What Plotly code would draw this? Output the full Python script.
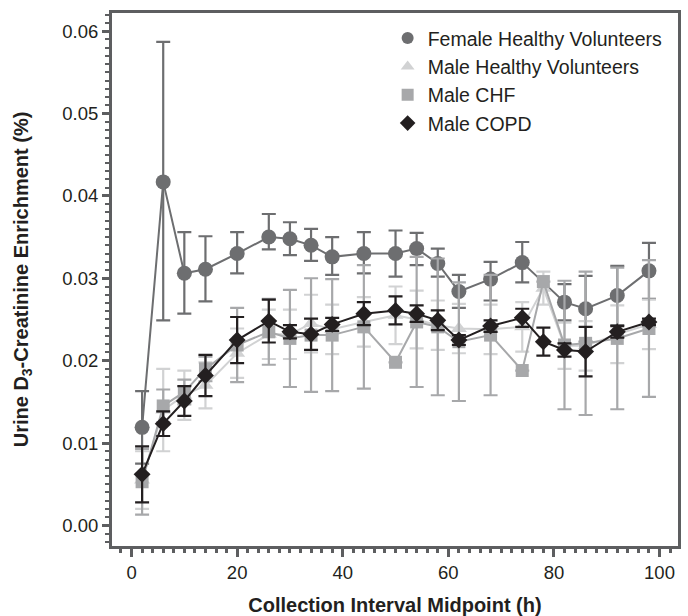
import plotly.graph_objects as go

# ---- data ----
x_female = [2, 6, 10, 14, 20, 26, 30, 34, 38, 44, 50, 54, 58, 62, 68, 74, 82, 86, 92, 98]
female = [0.0119, 0.0417, 0.0306, 0.0311, 0.0330, 0.0350, 0.0348, 0.0340, 0.0326, 0.0330,
          0.0330, 0.0336, 0.0318, 0.0284, 0.0299, 0.0319, 0.0271, 0.0263, 0.0279, 0.0309]
female_err_up = [0.0044, 0.0170, 0.0050, 0.0040, 0.0026, 0.0028, 0.0020, 0.0020, 0.0024, 0.0026,
                 0.0028, 0.0019, 0.0018, 0.0020, 0.0021, 0.0025, 0.0022, 0.0040, 0.0036, 0.0034]
female_err_dn = [0.0044, 0.0168, 0.0049, 0.0039, 0.0024, 0.0015, 0.0020, 0.0019, 0.0022, 0.0024,
                 0.0028, 0.0020, 0.0016, 0.0020, 0.0026, 0.0024, 0.0022, 0.0040, 0.0036, 0.0034]

x_male = [2, 6, 10, 14, 20, 26, 30, 34, 38, 44, 50, 54, 58, 62, 68, 74, 78, 82, 86, 92, 98]
male_hv = [0.0055, 0.0140, 0.0158, 0.0170, 0.0209, 0.0232, 0.0232, 0.0245, 0.0238, 0.0247, 0.0255,
           0.0250, 0.0243, 0.0239, 0.0238, 0.0241, 0.0288, 0.0218, 0.0218, 0.0232, 0.0244]
male_hv_err = [0.0035, 0.0050, 0.0030, 0.0028, 0.0030, 0.0030, 0.0030, 0.0035, 0.0030, 0.0030, 0.0035,
               0.0035, 0.0030, 0.0030, 0.0030, 0.0030, 0.0020, 0.0028, 0.0030, 0.0035, 0.0030]

male_chf = [0.0053, 0.0145, 0.0162, 0.0190, 0.0219, 0.0235, 0.0227, 0.0231, 0.0231, 0.0241, 0.0198,
            0.0247, 0.0241, 0.0223, 0.0231, 0.0188, 0.0296, 0.0219, 0.0221, 0.0227, 0.0239]
male_chf_err = [0.0040, 0.0020, 0.0015, 0.0015, 0.0045, 0.0040, 0.0059, 0.0069, 0.0068, 0.0075, 0.0,
                0.0079, 0.0083, 0.0072, 0.0073, 0.0, 0.0, 0.0078, 0.0087, 0.0086, 0.0083]

male_copd = [0.0062, 0.01235, 0.0151, 0.0182, 0.0225, 0.0248, 0.0235, 0.0232, 0.0244, 0.0257, 0.0261,
             0.0257, 0.0249, 0.0225, 0.0242, 0.0252, 0.0223, 0.0213, 0.0211, 0.0235, 0.0247]
male_copd_err = [0.0034, 0.0015, 0.0018, 0.0025, 0.0028, 0.0026, 0.0008, 0.0019, 0.0008, 0.0014, 0.0017,
                 0.0010, 0.0012, 0.0006, 0.0007, 0.0011, 0.0017, 0.0008, 0.0030, 0.0007, 0.0004]

names = ["Female Healthy Volunteers", "Male Healthy Volunteers", "Male CHF", "Male COPD"]
colors = ["#6d6e70", "#d1d2d3", "#a7a8aa", "#231f20"]
symbols = ["circle", "triangle-up", "square", "diamond"]
sizes = [15, 14, 13, 13]

x_ticks = [0, 20, 40, 60, 80, 100]
y_ticks = [0.00, 0.01, 0.02, 0.03, 0.04, 0.05, 0.06]

FRAME = "#5d5e60"
TEXT = "#231f20"

fig = go.Figure()

series = [
    (x_female, female, female_err_up, female_err_dn),
    (x_male, male_hv, male_hv_err, male_hv_err),
    (x_male, male_chf, male_chf_err, male_chf_err),
    (x_male, male_copd, male_copd_err, male_copd_err),
]

for i, (xs, ys, eu, ed) in enumerate(series):
    fig.add_trace(go.Scatter(
        x=xs, y=ys, mode="lines+markers", name=names[i], showlegend=False,
        line=dict(color=colors[i], width=2),
        marker=dict(symbol=symbols[i], size=sizes[i], color=colors[i], line=dict(width=0)),
        error_y=dict(type="data", array=eu, arrayminus=ed, symmetric=False,
                     color=colors[i], thickness=2.2, width=7),
    ))

# legend entries (markers only)
for i in range(4):
    fig.add_trace(go.Scatter(
        x=[None], y=[None], mode="markers", name=names[i],
        marker=dict(symbol=symbols[i], size=15, color=colors[i], line=dict(width=0)),
    ))

fig.update_layout(
    width=688, height=616,
    margin=dict(l=111.5, r=9.7, t=13.3, b=70),
    plot_bgcolor="white", paper_bgcolor="white",
    font=dict(family="Liberation Sans, Arial, sans-serif", color=TEXT, size=18.5),
    legend=dict(x=0.487, y=0.989, xanchor="left", yanchor="top",
                bgcolor="rgba(0,0,0,0)", font=dict(size=19.5, color=TEXT),
                tracegroupgap=0, itemsizing="constant"),
    xaxis=dict(
        range=[-3.7, 103.5], tickvals=x_ticks, ticktext=[str(v) for v in x_ticks],
        showgrid=False, zeroline=False, automargin=False,
        showline=True, linewidth=3, linecolor=FRAME, mirror=True,
        ticks="outside", ticklen=8, tickwidth=2.5, tickcolor=FRAME,
        tickfont=dict(size=18.5, color=TEXT),
        minor=dict(dtick=2, ticks="outside", ticklen=4, tickwidth=2.5, tickcolor=FRAME, showgrid=False),
        title=dict(text="<b>Collection Interval Midpoint (h)</b>",
                   font=dict(family="Liberation Sans, Arial", size=20, color=TEXT),
                   standoff=27),
    ),
    yaxis=dict(
        range=[-0.0025, 0.0622], tickvals=y_ticks, ticktext=["%.2f" % v for v in y_ticks],
        showgrid=False, zeroline=False, automargin=False,
        showline=True, linewidth=3, linecolor=FRAME, mirror=True,
        ticks="outside", ticklen=7, tickwidth=2.5, tickcolor=FRAME,
        tickfont=dict(size=18.5, color=TEXT),
        minor=dict(dtick=0.001, tick0=0, ticks="outside", ticklen=4, tickwidth=2, tickcolor=FRAME, showgrid=False),
        title=dict(text="<b>Urine D<sub>3</sub>-Creatinine Enrichment (%)</b>",
                   font=dict(family="Liberation Sans, Arial", size=20, color=TEXT),
                   standoff=29),
    ),
)

fig.write_html("out.html")
